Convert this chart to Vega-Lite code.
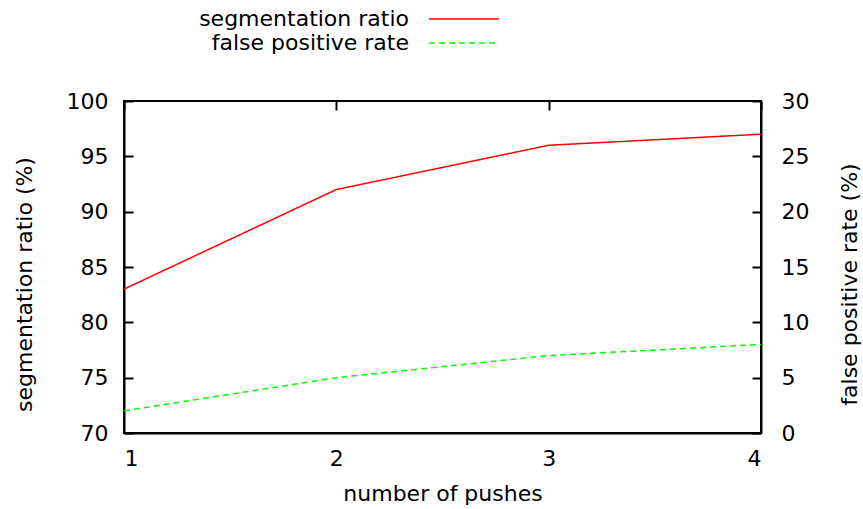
{
  "$schema": "https://vega.github.io/schema/vega-lite/v6.json",
  "width": 637,
  "height": 332,
  "autosize": "none",
  "padding": {"left": 124, "top": 101, "right": 102, "bottom": 76},
  "background": "white",
  "config": {
    "font": "DejaVu Sans",
    "view": {"stroke": "black", "strokeWidth": 2},
    "axis": {
      "grid": false,
      "labelFont": "DejaVu Sans",
      "labelFontSize": 22,
      "labelColor": "black",
      "titleFont": "DejaVu Sans",
      "titleFontSize": 22,
      "titleFontWeight": "normal",
      "titleColor": "black",
      "domainColor": "black",
      "domainWidth": 2,
      "tickColor": "black",
      "tickWidth": 2,
      "zindex": 1
    },
    "legend": {
      "labelFont": "DejaVu Sans",
      "labelFontSize": 22,
      "labelColor": "black"
    }
  },
  "data": {
    "values": [
      {"pushes": 1, "series": "segmentation ratio", "value": 83},
      {"pushes": 2, "series": "segmentation ratio", "value": 92},
      {"pushes": 3, "series": "segmentation ratio", "value": 96},
      {"pushes": 4, "series": "segmentation ratio", "value": 97},
      {"pushes": 1, "series": "false positive rate", "value": 2},
      {"pushes": 2, "series": "false positive rate", "value": 5},
      {"pushes": 3, "series": "false positive rate", "value": 7},
      {"pushes": 4, "series": "false positive rate", "value": 8}
    ]
  },
  "encoding": {
    "color": {
      "field": "series",
      "type": "nominal",
      "scale": {"domain": ["segmentation ratio", "false positive rate"], "range": ["#ff0000", "#00ff00"]},
      "legend": {
        "title": null,
        "orient": "none",
        "legendX": 329,
        "legendY": -93,
        "padding": 0,
        "symbolType": "M-7,0H7",
        "symbolSize": 100,
        "symbolStrokeWidth": 1.5,
        "symbolOpacity": 1,
        "labelAlign": "right",
        "labelOffset": -66,
        "labelLimit": 400,
        "rowPadding": 2
      }
    },
    "strokeDash": {
      "field": "series",
      "type": "nominal",
      "scale": {"domain": ["segmentation ratio", "false positive rate"], "range": [[1, 0], [6, 4]]},
      "legend": null
    }
  },
  "layer": [
    {
      "transform": [{"filter": "datum.series === 'segmentation ratio'"}],
      "mark": {"type": "line", "strokeWidth": 1.5},
      "encoding": {
        "x": {
          "field": "pushes",
          "type": "quantitative",
          "scale": {"domain": [1, 4], "nice": false, "zero": false},
          "axis": {"title": "number of pushes", "values": [1, 2, 3, 4], "format": "d", "ticks": false, "labelPadding": 15, "titlePadding": 14}
        },
        "y": {
          "field": "value",
          "type": "quantitative",
          "scale": {"domain": [70, 100], "nice": false, "zero": false},
          "axis": {"title": "segmentation ratio (%)", "orient": "left", "values": [70, 75, 80, 85, 90, 95, 100], "ticks": false, "labelPadding": 16, "titleAngle": 270, "titleX": -100, "titleY": 183, "titleAlign": "center", "titleBaseline": "middle"}
        }
      }
    },
    {
      "transform": [{"filter": "datum.series === 'false positive rate'"}],
      "mark": {"type": "line", "strokeWidth": 1.5},
      "encoding": {
        "x": {"field": "pushes", "type": "quantitative", "axis": null},
        "y": {
          "field": "value",
          "type": "quantitative",
          "scale": {"domain": [0, 30], "nice": false, "zero": false},
          "axis": {"title": "false positive rate (%)", "orient": "right", "values": [0, 5, 10, 15, 20, 25, 30], "ticks": false, "labelPadding": 20, "titleAngle": 270, "titleX": 88, "titleY": 183, "titleAlign": "center", "titleBaseline": "middle"}
        }
      }
    },
    {
      "transform": [{"filter": "datum.series === 'segmentation ratio'"}],
      "mark": {"type": "line", "strokeWidth": 0, "opacity": 0},
      "encoding": {
        "x": {
          "field": "pushes",
          "type": "quantitative",
          "axis": {"title": null, "values": [1, 2, 3, 4], "labels": false, "domain": false, "ticks": true, "tickSize": 9, "offset": -9}
        },
        "y": {
          "field": "value",
          "type": "quantitative",
          "scale": {"domain": [70, 100], "nice": false, "zero": false},
          "axis": {"title": null, "orient": "left", "values": [70, 75, 80, 85, 90, 95, 100], "labels": false, "domain": false, "ticks": true, "tickSize": 9, "offset": -9}
        }
      }
    },
    {
      "transform": [{"filter": "datum.series === 'false positive rate'"}],
      "mark": {"type": "line", "strokeWidth": 0, "opacity": 0},
      "encoding": {
        "x": {"field": "pushes", "type": "quantitative", "axis": null},
        "y": {
          "field": "value",
          "type": "quantitative",
          "scale": {"domain": [0, 30], "nice": false, "zero": false},
          "axis": {"title": null, "orient": "right", "values": [0, 5, 10, 15, 20, 25, 30], "labels": false, "domain": false, "ticks": true, "tickSize": 9, "offset": -9}
        }
      }
    }
  ],
  "resolve": {"scale": {"y": "independent"}, "axis": {"x": "independent", "y": "independent"}}
}
